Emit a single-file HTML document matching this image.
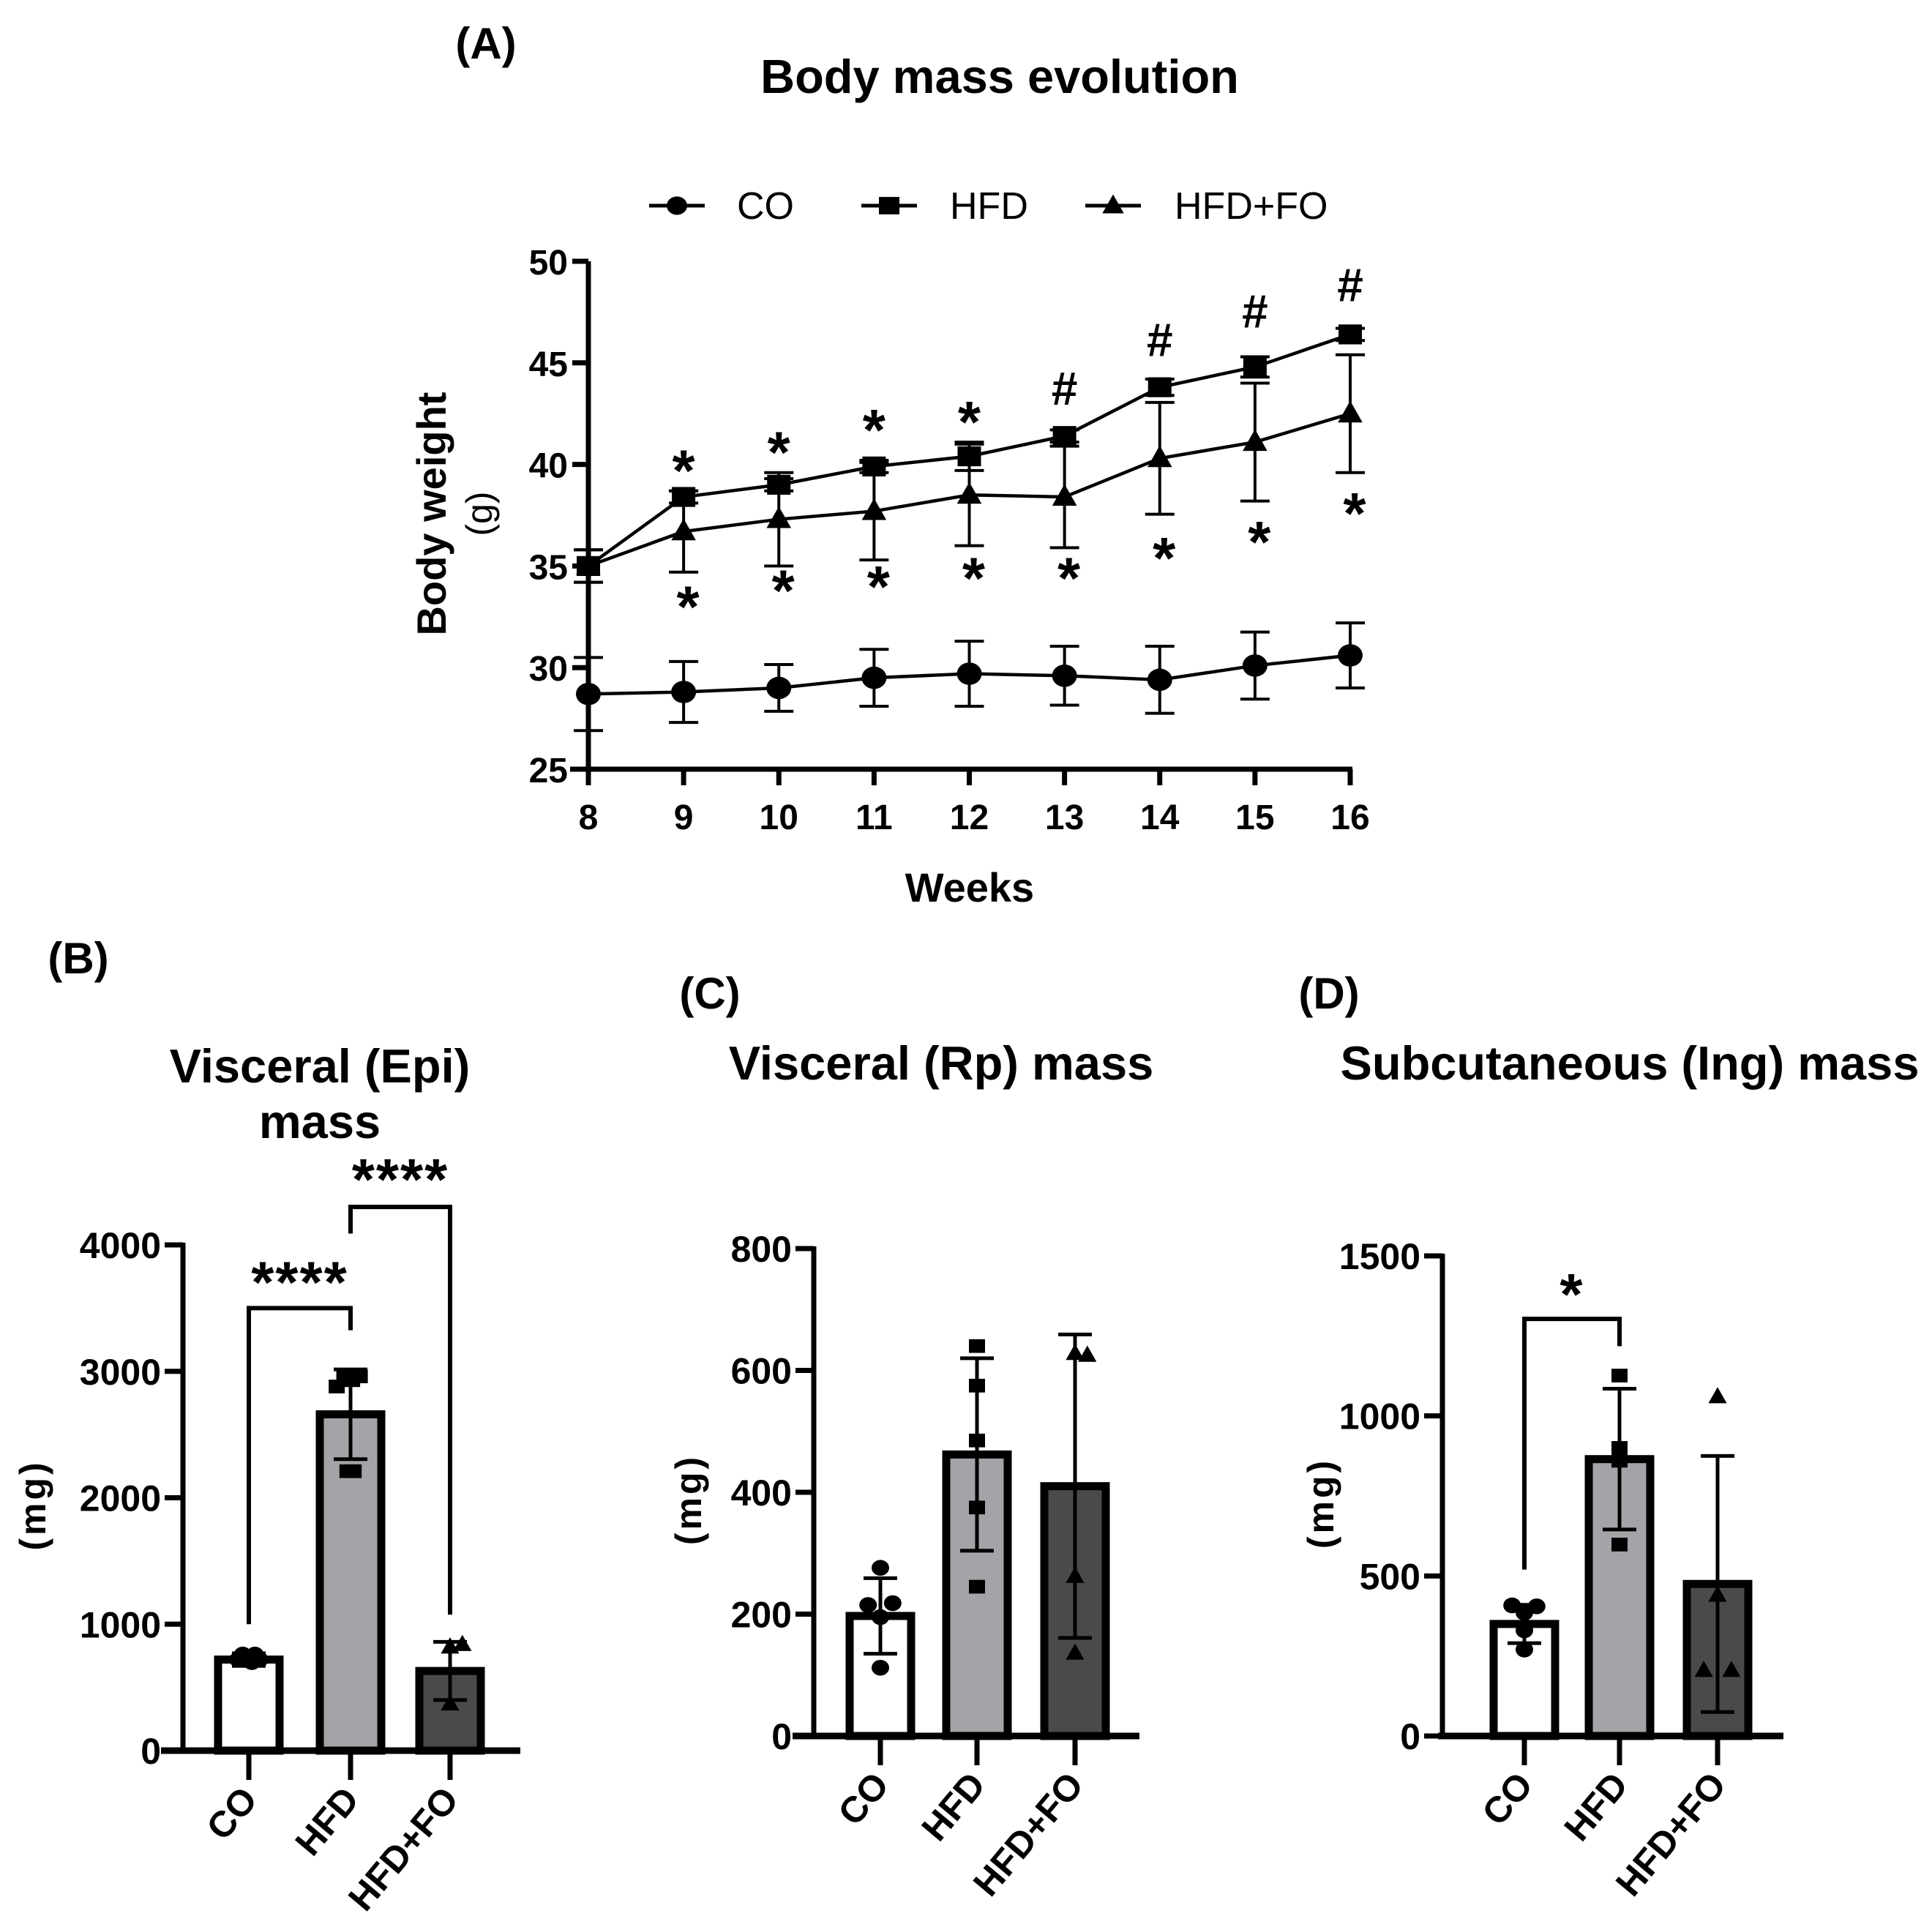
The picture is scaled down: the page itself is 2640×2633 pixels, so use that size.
<!DOCTYPE html>
<html><head><meta charset="utf-8"><style>
html,body{margin:0;padding:0;background:#fff}
svg{display:block;font-family:"Liberation Sans",Arial,sans-serif}
</style></head><body>
<svg id="fig" width="2640" height="2633" viewBox="0 0 2640 2633" xmlns="http://www.w3.org/2000/svg">
<g id="A"></g>
<g id="B"></g>
<g id="C"></g>
<g id="D"></g>
</svg>
<script>
// ---- Panel A data ----
const weeks = [8,9,10,11,12,13,14,15,16];
const yTicksA = [25,30,35,40,45,50];
const coMean = [28.7,28.8,29.0,29.5,29.7,29.6,29.4,30.1,30.6];
const coErr = [1.8,1.5,1.15,1.4,1.6,1.45,1.65,1.65,1.6];
const hfdMean = [35.0,38.4,39.0,39.9,40.4,41.4,43.8,44.8,46.4];
const hfdErr = [0.8,0.3,0.3,0.3,0.7,0.3,0.4,0.5,0.3];
const foMean = [35.0,36.7,37.3,37.7,38.5,38.4,40.3,41.1,42.5];
const foErr = [0.8,2.0,2.3,2.4,2.5,2.5,2.75,2.9,2.9];
const upperMarks = ['','*','*','*','*','#','#','#','#'];
const upperMarkY = [0,40.0,40.9,42.0,42.4,43.8,46.2,47.6,48.9];
const lowerMarks = ['','*','*','*','*','*','*','*','*'];
const lowerMarkY = [0,33.3,34.1,34.3,34.7,34.7,35.7,36.5,37.9];

// ---- Panel B data ----
const groups = ['CO','HFD','HFD+FO'];
const bTicks = [0,1000,2000,3000,4000];
const bMean = [720,2660,630];
const bErr = [50,355,230];
const bPtsCO = [[-0.35,720],[-0.2,760],[0,740],[0.2,760],[0.35,720],[0.1,700]];
const bPtsHFD = [[-0.45,2880],[-0.2,2950],[0.05,2930],[0.3,2960],[-0.1,2210],[0.1,2210]];
const bPtsFO = [[0,820],[0.4,840],[0,370]];
// ---- Panel C data ----
const cTicks = [0,200,400,600,800];
const cMean = [197,462,410];
const cErr = [62,158,249];
const cPtsCO = [[0,276],[-0.4,215],[0.4,218],[0,195],[0,112]];
const cPtsHFD = [[0,640],[0,575],[0,485],[0,375],[0,245]];
const cPtsFO = [[0,628],[0.4,625],[0,262],[0,136]];
// ---- Panel D data ----
const dTicks = [0,500,1000,1500];
const dMean = [350,865,475];
const dErr = [60,220,400];
const dPtsCO = [[-0.4,408],[0,385],[0.4,405],[0,330],[0,270]];
const dPtsHFD = [[0,1126],[0,900],[0,860],[0,598]];
const dPtsFO = [[0,1060],[0,440],[-0.45,205],[0.45,205]];

const NS='http://www.w3.org/2000/svg';
function mk(parent,tag,attrs,text){const e=document.createElementNS(NS,tag);for(const k in attrs)e.setAttribute(k,attrs[k]);if(text!==undefined)e.textContent=text;parent.appendChild(e);return e;}
function marker(g,type,x,y,s){
  let e;
  if(type==='circle') e=mk(g,'ellipse',{cx:x,cy:y,rx:s*1.0,ry:s*0.9,fill:'#000'});
  else if(type==='square') e=mk(g,'rect',{x:x-s,y:y-s*0.85,width:2*s,height:1.7*s,fill:'#000'});
  else e=mk(g,'polygon',{points:`${x},${y-s*1.1} ${x+s*1.05},${y+s*0.75} ${x-s*1.05},${y+s*0.75}`,fill:'#000'});
  return e;
}

// ===== Panel A =====
(function(){
  const g=document.getElementById('A');
  const x0=804,x1=1845,yb=1051,yt=357;
  const X=w=>x0+(w-8)/(8)*(x1-x0);
  const Y=v=>yb-(v-25)/25*(yb-yt);
  let t;
  t=mk(g,'text',{x:664,y:80,'font-size':60,'font-weight':'bold','text-anchor':'middle'},'(A)');
  
  t=mk(g,'text',{x:1366,y:127,'font-size':65,'font-weight':'bold','text-anchor':'middle'},'Body mass evolution');
  
  // legend
  const leg=[['circle','CO',925,1007],['square','HFD',1215,1298],['triangle','HFD+FO',1521,1605]];
  leg.forEach(l=>{
    const lg=mk(g,'g',{});
    
    
    mk(lg,'line',{x1:l[2]-38,x2:l[2]+38,y1:281,y2:281,stroke:'#000','stroke-width':5});
    marker(lg,l[0],l[2],281,14);
    mk(lg,'text',{x:l[3],y:299,'font-size':52},l[1]);
  });
  // axes
  const ax=mk(g,'g',{});
  mk(ax,'line',{x1:x0,x2:x0,y1:yt,y2:yb+3,stroke:'#000','stroke-width':7});
  yTicksA.forEach(v=>{mk(ax,'line',{x1:x0-22,x2:x0,y1:Y(v),y2:Y(v),stroke:'#000','stroke-width':7});
    mk(ax,'text',{x:x0-28,y:Y(v)+18,'font-size':48,'font-weight':'bold','text-anchor':'end'},v);});
  const xa=mk(g,'g',{});
  mk(xa,'line',{x1:x0-25,x2:x1+3,y1:yb,y2:yb,stroke:'#000','stroke-width':7});
  weeks.forEach(w=>{mk(xa,'line',{x1:X(w),x2:X(w),y1:yb,y2:yb+22,stroke:'#000','stroke-width':7});
    mk(xa,'text',{x:X(w),y:yb+82,'font-size':48,'font-weight':'bold','text-anchor':'middle'},w);});
  t=mk(g,'text',{x:1325,y:1232,'font-size':56,'font-weight':'bold','text-anchor':'middle'},'Weeks');
  
  t=mk(g,'text',{transform:'translate(609,702) rotate(-90)','font-size':56,'font-weight':'bold','text-anchor':'middle'},'Body weight');
  
  t=mk(g,'text',{transform:'translate(672,702) rotate(-90)','font-size':50,'text-anchor':'middle'},'(g)');
  
  const series=[['co',coMean,coErr,'circle',17],['hfd',hfdMean,hfdErr,'square',16],['hfd-fo',foMean,foErr,'triangle',16]];
  series.forEach(s=>{
    const sg=mk(g,'g',{});
    s[1].forEach((m,i)=>{const x=X(weeks[i]);
      mk(sg,'line',{x1:x,x2:x,y1:Y(m-s[2][i]),y2:Y(m+s[2][i]),stroke:'#000','stroke-width':4});
      [m-s[2][i],m+s[2][i]].forEach(v=>mk(sg,'line',{x1:x-20,x2:x+20,y1:Y(v),y2:Y(v),stroke:'#000','stroke-width':4}));
    });
    mk(sg,'polyline',{points:s[1].map((m,i)=>X(weeks[i])+','+Y(m)).join(' '),fill:'none',stroke:'#000','stroke-width':4.5});
    s[1].forEach((m,i)=>{const e=marker(sg,s[3],X(weeks[i]),Y(m),s[4]);
      });
  });
  weeks.forEach((w,i)=>{
    if(upperMarks[i]){const e=mk(g,'text',{x:X(w),y:Y(upperMarkY[i])+(upperMarks[i]==='*'?36:24),'font-size':upperMarks[i]==='*'?80:64,'font-weight':'bold','text-anchor':'middle'},upperMarks[i]);
      }
    if(lowerMarks[i]){const e=mk(g,'text',{x:X(w)+6,y:Y(lowerMarkY[i])+36,'font-size':80,'font-weight':'bold','text-anchor':'middle'},lowerMarks[i]);
      }
  });
})();

// ===== Bar panels =====
function barPanel(id,cfg){
  const g=document.getElementById(id);
  const {ax,y0,yTop,maxV,ticks,centers,xl,xr,means,errs,pts,label,title,unitX}=cfg;
  const Y=v=>y0-v/maxV*(y0-yTop);
  let t;
  t=mk(g,'text',{x:label[0],y:label[1],'font-size':60,'font-weight':'bold','text-anchor':'middle'},label[2]);
  
  title.forEach((tt,i)=>{t=mk(g,'text',{x:tt[0],y:tt[1],'font-size':65,'font-weight':'bold','text-anchor':'middle'},tt[2]);
    });
  t=mk(g,'text',{transform:`translate(${unitX},${(y0+yTop)/2+10}) rotate(-90)`,'font-size':50,'font-weight':'bold','text-anchor':'middle','letter-spacing':'4'},'(mg)');
  
  const cols=['#ffffff','#a3a3a8','#4a4a4a'];
  const shapes=['circle','square','triangle'];
  const bw=84;
  means.forEach((m,i)=>{
    const bg=mk(g,'g',{});
    mk(bg,'rect',{x:centers[i]-bw/2,y:Y(m),width:bw,height:y0-Y(m),fill:cols[i],stroke:'#000','stroke-width':11});
    pts[i].forEach(p=>marker(bg,shapes[i],centers[i]+p[0]*bw/2,Y(p[1]),shapes[i]==='circle'?12:(shapes[i]==='square'?11:12)));
    const c=centers[i];
    mk(bg,'line',{x1:c,x2:c,y1:Y(m-errs[i]),y2:Y(m+errs[i]),stroke:'#000','stroke-width':5});
    [m-errs[i],m+errs[i]].forEach(v=>mk(bg,'line',{x1:c-23,x2:c+23,y1:Y(v),y2:Y(v),stroke:'#000','stroke-width':5}));
  });
  const ya=mk(g,'g',{});
  mk(ya,'line',{x1:ax,x2:ax,y1:yTop-3,y2:y0,stroke:'#000','stroke-width':7});
  ticks.forEach(v=>{mk(ya,'line',{x1:ax-25,x2:ax,y1:Y(v),y2:Y(v),stroke:'#000','stroke-width':7});
    mk(ya,'text',{x:ax-30,y:Y(v)+18,'font-size':50,'font-weight':'bold','text-anchor':'end'},v);});
  const xa=mk(g,'g',{});
  mk(xa,'line',{x1:xl,x2:xr,y1:y0,y2:y0,stroke:'#000','stroke-width':9});
  centers.forEach((c,i)=>{mk(xa,'line',{x1:c,x2:c,y1:y0,y2:y0+40,stroke:'#000','stroke-width':7});
    const e=mk(xa,'text',{transform:`translate(${c+14},${y0+68}) rotate(-50)`,'font-size':50,'font-weight':'bold','text-anchor':'end'},groups[i]);
    });
  (cfg.brackets||[]).forEach((b,k)=>{
    const bg=mk(g,'g',{});
    const xa1=centers[b[0]],xa2=centers[b[1]];
    mk(bg,'polyline',{points:`${xa1},${Y(b[3])} ${xa1},${Y(b[2])} ${xa2},${Y(b[2])} ${xa2},${Y(b[4])}`,fill:'none',stroke:'#000','stroke-width':6});
    mk(bg,'text',{x:(xa1+xa2)/2,y:Y(b[6])+38,'font-size':80,'font-weight':'bold','text-anchor':'middle','letter-spacing':'2'},b[5]);
  });
}
barPanel('B',{ax:250,y0:2392,yTop:1701,maxV:4000,ticks:bTicks,centers:[340,479,615],xl:220,xr:711,
  means:bMean,errs:bErr,pts:[bPtsCO,bPtsHFD,bPtsFO],label:[107,1330,'(B)'],
  title:[[437,1479,'Visceral (Epi)'],[437,1555,'mass']],unitX:62,
  brackets:[[0,1,3500,1000,3325,'****',3765],[1,2,4300,4090,1075,'****',4580]]});
barPanel('C',{ax:1112,y0:2372,yTop:1706,maxV:800,ticks:cTicks,centers:[1203,1335,1469],xl:1083,xr:1557,
  means:cMean,errs:cErr,pts:[cPtsCO,cPtsHFD,cPtsFO],label:[970,1378,'(C)'],
  title:[[1286,1475,'Visceral (Rp) mass']],unitX:958});
barPanel('D',{ax:1971,y0:2372,yTop:1716,maxV:1500,ticks:dTicks,centers:[2083,2213,2347],xl:1965,xr:2437,
  means:dMean,errs:dErr,pts:[dPtsCO,dPtsHFD,dPtsFO],label:[1816,1378,'(D)'],
  title:[[2227,1475,'Subcutaneous (Ing) mass']],unitX:1822,
  brackets:[[0,1,1303,520,1218,'*',1404]]});
</script>
</body></html>
